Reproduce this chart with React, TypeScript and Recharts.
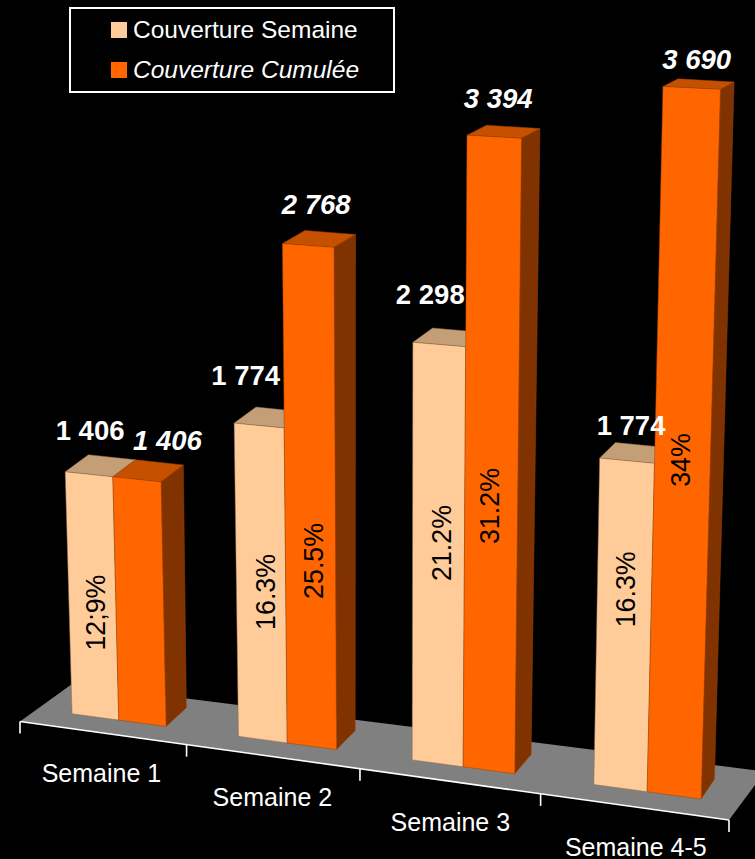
import React from 'react';
import { ComposedChart, Bar, Line, XAxis, YAxis, Legend, LabelList, Customized } from 'recharts';

const weeks = ['Semaine 1', 'Semaine 2', 'Semaine 3', 'Semaine 4-5'];
const semaine = [1406, 1774, 2298, 1774];
const cumulee = [1406, 2768, 3394, 3690];
const semaineShare = ['12;9%', '16.3%', '21.2%', '16.3%'];
const cumuleeShare = ['', '25.5%', '31.2%', '34%'];

const W = 755;
const H = 859;
const AXIS_H = 1;
const MAX = 4000;
const FONT = '"Liberation Sans", Arial, sans-serif';
const CREAM = '#FFCC99';
const ORANGE = '#FF6600';
const BAND = W / weeks.length;
const CATEGORY_GAP = 0.43;
const PAIR = BAND * (1 - CATEGORY_GAP);
const LEFT = (BAND - PAIR) / 2;
const RIGHT = W - LEFT;
const BASE_Y = H - AXIS_H;
const TOP_Y = BASE_Y * (1 - 3690 / MAX);

type Pt = [number, number];

// maps the flat plot rectangle on to a quad seen in perspective
const makeProjection = (quad: Pt[]) => {
  const [[x0, y0], [x1, y1], [x2, y2], [x3, y3]] = quad;
  const dx1 = x1 - x2;
  const dx2 = x3 - x2;
  const sx = x0 - x1 + x2 - x3;
  const dy1 = y1 - y2;
  const dy2 = y3 - y2;
  const sy = y0 - y1 + y2 - y3;
  const den = dx1 * dy2 - dx2 * dy1;
  const g = (sx * dy2 - dx2 * sy) / den;
  const h = (dx1 * sy - sx * dy1) / den;
  const a = x1 - x0 + g * x1;
  const b = x3 - x0 + h * x3;
  const d = y1 - y0 + g * y1;
  const e = y3 - y0 + h * y3;
  return (x: number, y: number): Pt => {
    const u = (x - LEFT) / (RIGHT - LEFT);
    const v = (y - BASE_Y) / (TOP_Y - BASE_Y);
    const w = g * u + h * v + 1;
    return [(a * u + b * v + x0) / w, (d * u + e * v + y0) / w];
  };
};

const front = makeProjection([[71.7, 713.7], [700.7, 799], [720, 89.3], [53, 56]]);
const back = makeProjection([[92.7, 695], [714, 779.3], [733.7, 82], [80, 45]]);

const pts = (list: Pt[]) => list.map((p) => p.join(',')).join(' ');

const Bar3D = ({ x, y, width, height, fill, topFill, sideFill, edge }: any) => {
  const x2 = x + width;
  const y2 = y + height;
  const fl = front(x, y);
  const fr = front(x2, y);
  const blf = front(x, y2);
  const brf = front(x2, y2);
  const tl = back(x, y);
  const tr = back(x2, y);
  const br = back(x2, y2);
  return (
    <g stroke={edge} strokeWidth={0.5}>
      <polygon points={pts([fr, tr, br, brf])} fill={sideFill} />
      <polygon points={pts([fl, tl, tr, fr])} fill={topFill} />
      <polygon points={pts([fl, fr, brf, blf])} fill={fill} />
    </g>
  );
};

// floor front edge, ticks get closer towards the left
const floorX = (x: number) => {
  const t = x / W;
  return 20 + 709 * (t / (t + 1.0855 * (1 - t)));
};
const floorY = (sx: number) => 721.5 + (sx - 20) * 0.139;

const Floor = () => (
  <g>
    <polygon points="20,721.5 72,684 765,771.5 729,820" fill="#808080" />
    <line x1={20} y1={721.5} x2={729} y2={820} stroke="#fff" strokeWidth={1.6} />
  </g>
);

const WeekTick = ({ x, payload, index }: any) => {
  const left = floorX(x - BAND / 2);
  const right = floorX(x + BAND / 2);
  const mid = floorX(x);
  return (
    <g>
      <line x1={left} y1={floorY(left)} x2={left} y2={floorY(left) + 12} stroke="#fff" strokeWidth={1.6} />
      {index === weeks.length - 1 && (
        <line x1={right} y1={floorY(right)} x2={right} y2={floorY(right) + 12} stroke="#fff" strokeWidth={1.6} />
      )}
      <text x={mid - 1 + index} y={floorY(mid) + 40.5} fill="#fff" fontSize={25} fontFamily={FONT} textAnchor="middle" dominantBaseline="central">
        {payload.value}
      </text>
    </g>
  );
};

const fmt = (v: number) => String(v).replace(/\B(?=(\d{3})+$)/g, ' ');

// hand nudges: the original labels were not placed evenly
const creamNudge: Pt[] = [[1.5, -44], [-13, -50], [-8.5, -50], [4.5, -35]];
const orangeNudge: Pt[] = [[31, -39], [8.5, -41], [4.5, -38], [5.5, -28]];
const creamLift = [0.43, 0.47, 0.526, 0.607];
const orangeLift = [0, 0.37, 0.417, 0.474];
const creamShift = [4, 5, 4, 2];
const orangeShift = [0, 4, -1, -1];

const makeValueLabel = (offset: number, nudge: Pt[], italic: boolean) => ({ x, y, value, index }: any) => {
  const cx = x + offset;
  const [sx, sy] = front(cx, y);
  return (
    <text
      x={sx + nudge[index][0]}
      y={sy + nudge[index][1]}
      fill="#fff"
      fontSize={27.5}
      fontWeight="bold"
      fontStyle={italic ? 'italic' : 'normal'}
      fontFamily={FONT}
      textAnchor="middle"
      dominantBaseline="central"
    >
      {fmt(value)}
    </text>
  );
};

const makeShareLabel = (offset: number, lift: number[], shift: number[]) => ({ x, y, value, index }: any) => {
  const cx = x + offset;
  const top = front(cx, y);
  const base = front(cx, BASE_Y);
  const sx = base[0] + (top[0] - base[0]) * lift[index] + shift[index];
  const sy = base[1] + (top[1] - base[1]) * lift[index];
  return (
    <text
      x={sx}
      y={sy}
      transform={`rotate(-90 ${sx} ${sy})`}
      fill="#000"
      fontSize={26.8}
      fontFamily={FONT}
      textAnchor="middle"
      dominantBaseline="central"
    >
      {value}
    </text>
  );
};

const LegendBox = ({ payload }: any) => (
  <div style={{ width: 322, height: 82, border: '2px solid #fff', background: '#000', position: 'relative', fontFamily: FONT, fontSize: 24.5, color: '#fff' }}>
    {(payload || [])
      .filter((item: any) => item.type !== 'none')
      .map((item: any, i: number) => (
        <div key={item.value} style={{ position: 'absolute', left: 40, top: 5 + i * 40, height: 32, display: 'flex', alignItems: 'center', whiteSpace: 'nowrap', fontStyle: i === 1 ? 'italic' : 'normal' }}>
          <span style={{ width: 16, height: 16, background: item.color, marginRight: 6, display: 'inline-block' }} />
          {item.value}
        </div>
      ))}
  </div>
);

const data = weeks.map((week, i) => ({
  week,
  semaine: semaine[i],
  cumulee: cumulee[i],
  semaineShare: semaineShare[i],
  cumuleeShare: cumuleeShare[i],
}));

export default function App() {
  return (
    <div style={{ position: 'absolute', left: 0, top: 0, width: W, height: H, background: '#000', overflow: 'hidden' }}>
      <ComposedChart width={W} height={H} data={data} margin={{ top: 0, right: 0, bottom: 0, left: 0 }} barGap={0} barCategoryGap="43%">
        <Customized component={<Floor />} />
        <XAxis dataKey="week" height={AXIS_H} axisLine={false} tickLine={false} interval={0} tick={<WeekTick />} />
        <YAxis hide domain={[0, MAX]} />
        <Legend
          verticalAlign="middle"
          itemSorter={null}
          content={<LegendBox />}
          wrapperStyle={{ position: 'absolute', left: 69, top: 7, width: 326, height: 86 }}
        />
        <Bar
          dataKey="semaine"
          name="Couverture Semaine"
          fill={CREAM}
          barSize={PAIR / 2}
          isAnimationActive={false}
          shape={(p: any) => <Bar3D {...p} fill={CREAM} topFill="#C49E76" sideFill="#805533" edge="#8a6a4a" />}
        />
        <Bar
          dataKey="cumulee"
          name="Couverture Cumulée"
          fill={ORANGE}
          barSize={PAIR / 2}
          isAnimationActive={false}
          shape={(p: any) => <Bar3D {...p} fill={ORANGE} topFill="#C45000" sideFill="#803300" edge="#9a4000" />}
        />
        <Line dataKey="semaine" stroke="none" dot={false} activeDot={false} legendType="none" isAnimationActive={false}>
          <LabelList dataKey="semaine" content={makeValueLabel(-PAIR / 4, creamNudge, false)} />
          <LabelList dataKey="semaineShare" content={makeShareLabel(-PAIR / 4, creamLift, creamShift)} />
        </Line>
        <Line dataKey="cumulee" stroke="none" dot={false} activeDot={false} legendType="none" isAnimationActive={false}>
          <LabelList dataKey="cumulee" content={makeValueLabel(PAIR / 4, orangeNudge, true)} />
          <LabelList dataKey="cumuleeShare" content={makeShareLabel(PAIR / 4, orangeLift, orangeShift)} />
        </Line>
      </ComposedChart>
    </div>
  );
}
